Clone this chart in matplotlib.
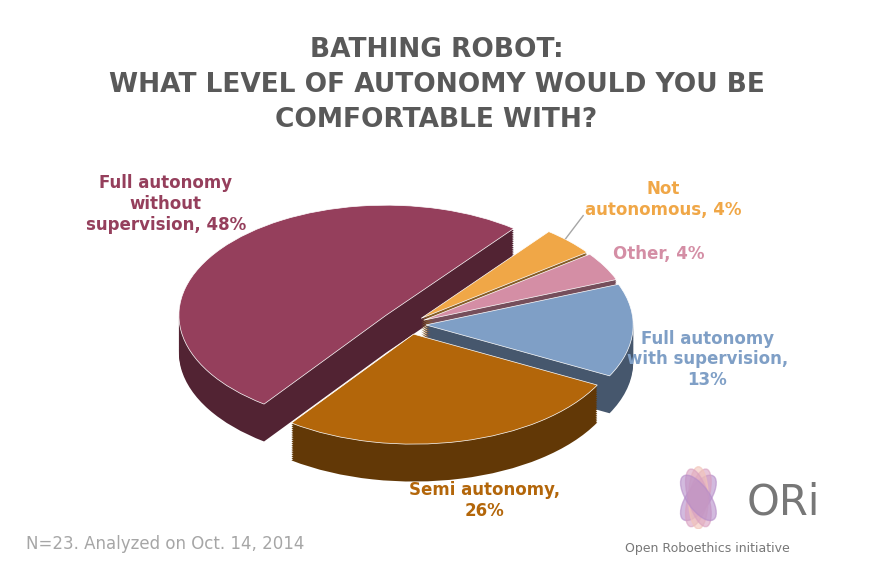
import matplotlib.pyplot as plt
import matplotlib.colors as mcolors
from matplotlib.patches import Ellipse

labels = ['Full autonomy\nwithout\nsupervision, 48%', 'Semi autonomy,\n26%',
          'Full autonomy\nwith supervision,\n13%', 'Other, 4%', 'Not\nautonomous, 4%']
values = [48, 26, 13, 4, 4]
colors = ['#953F5C', '#B3660A', '#7F9FC6', '#D48EA5', '#F0A747']
explode = [0.14, 0.09, 0.08, 0.08, 0.08]

fig = plt.figure(figsize=(8.73, 5.75), dpi=100)
fig.patch.set_facecolor('white')
ax = fig.add_axes([0.184, 0.12, 0.641, 0.574])


def darker(c, f=0.55):
    r, g, b = mcolors.to_rgb(c)
    return (r * f, g * f, b * f)


# depth layers
nlayers = 20
depth = 0.34
for k in range(nlayers, 0, -1):
    ax.pie(values, colors=[darker(c) for c in colors], explode=explode,
           startangle=52, counterclock=True, center=(0, -k * depth / nlayers),
           wedgeprops=dict(linewidth=0), frame=True)
ax.pie(values, colors=colors, explode=explode, startangle=52, counterclock=True,
       wedgeprops=dict(linewidth=0.5, edgecolor='white'), frame=True)
ax.set_aspect('auto')
ax.set_xlim(-1.2, 1.5)
ax.set_ylim(-1.65, 1.35)
ax.axis('off')

fig.text(0.5, 0.935, 'BATHING ROBOT:\nWHAT LEVEL OF AUTONOMY WOULD YOU BE\nCOMFORTABLE WITH?',
         ha='center', va='top', fontsize=19, fontweight='bold', color='#595959',
         linespacing=1.45)

lab_style = dict(fontsize=12, fontweight='bold', ha='center', va='center')
fig.text(0.19, 0.645, labels[0], color=colors[0], **lab_style)
fig.text(0.555, 0.13, labels[1], color=colors[1], **lab_style)
fig.text(0.81, 0.375, labels[2], color=colors[2], **lab_style)
fig.text(0.755, 0.558, labels[3], color=colors[3], **lab_style)
fig.text(0.76, 0.653, labels[4], color=colors[4], **lab_style)
fig.add_artist(plt.Line2D([0.668, 0.648], [0.625, 0.585], color='#A6A6A6', lw=1))

fig.text(0.03, 0.045, 'N=23. Analyzed on Oct. 14, 2014', fontsize=12, color='#A6A6A6')

# logo
lax = fig.add_axes([0.75, 0.08, 0.1, 0.13])
lax.set_xlim(-1, 1)
lax.set_ylim(0, 1.2)
lax.axis('off')
for ang, col in [(-50, '#B58CC8'), (-25, '#D9A0C0'), (0, '#F2C4B8'), (25, '#D9A0C0'), (50, '#B58CC8')]:
    lax.add_patch(Ellipse((0, 0.5), 0.45, 1.0, angle=ang, color=col, alpha=0.6))
fig.text(0.855, 0.105, 'ORi', fontsize=30, color='#777777')
fig.text(0.81, 0.04, 'Open Roboethics initiative', fontsize=9, color='#777777', ha='center')

fig.savefig('out.png', dpi=100)
